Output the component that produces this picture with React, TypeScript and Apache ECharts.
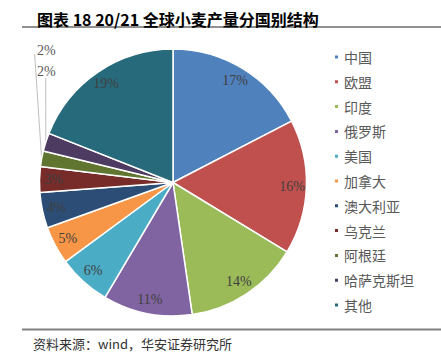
import React, { useEffect, useRef } from "react";
import * as echarts from "echarts";

const titleText = "图表 18 20/21 全球小麦产量分国别结构";
const sourceText = "资料来源：wind，华安证券研究所";
const names = ["中国", "欧盟", "印度", "俄罗斯", "美国", "加拿大", "澳大利亚", "乌克兰", "阿根廷", "哈萨克斯坦", "其他"];
const shares = [17.4, 16.3, 14.0, 10.8, 6.4, 4.6, 4.3, 3.1, 1.9, 2.2, 19.0];
const colors = ["#4F81BD", "#C0504D", "#9BBB59", "#8064A2", "#4BACC6", "#F79646", "#2C4D75", "#772C2A", "#5F7530", "#4D3B62", "#276A7C"];
const outsideNames = ["阿根廷", "哈萨克斯坦"];

const CX = 173;
const CY = 182.5;
const R = 133.5;

function arcPoint(idx: number, r: number): [number, number] {
  const total = shares.reduce((a, b) => a + b, 0);
  let cum = 0;
  for (let i = 0; i < idx; i++) cum += shares[i];
  const f = (cum + shares[idx] / 2) / total;
  const t = f * Math.PI * 2;
  return [CX + r * Math.sin(t), CY - r * Math.cos(t)];
}

export default function App() {
  const ref = useRef<HTMLDivElement>(null);
  useEffect(() => {
    if (!ref.current) return;
    const chart = echarts.init(ref.current, null, { renderer: "svg" });
    const fmt = (p: any) => Math.round(p.value) + "%";
    const serif = "'Liberation Serif', 'Times New Roman', serif";
    const cjk = "'Noto Sans CJK SC', sans-serif";
    chart.setOption({
      animation: false,
      backgroundColor: "#ffffff",
      color: colors,
      title: {
        text: titleText,
        left: 32,
        top: 6,
        textStyle: { fontSize: 16, fontWeight: "bold", color: "#000000", fontFamily: cjk },
      },
      legend: {
        orient: "vertical",
        left: 328,
        top: 45,
        icon: "rect",
        itemWidth: 5,
        itemHeight: 5,
        itemGap: 10.8,
        data: names,
        textStyle: { fontSize: 14, lineHeight: 14, color: "#595959", fontFamily: cjk },
      },
      graphic: [
        { type: "line", shape: { x1: 22, y1: 27, x2: 441, y2: 27 }, style: { stroke: "#222222", lineWidth: 1 } },
        { type: "line", shape: { x1: 22, y1: 329.5, x2: 441, y2: 329.5 }, style: { stroke: "#808080", lineWidth: 2 } },
        {
          type: "text",
          x: 33,
          y: 343,
          style: { text: sourceText, fontSize: 13, fill: "#333333", fontFamily: cjk, verticalAlign: "middle" },
        },
      ],
      series: [
        {
          type: "pie",
          center: [CX, CY],
          radius: [0, R],
          startAngle: 90,
          clockwise: true,
          avoidLabelOverlap: false,
          silent: true,
          itemStyle: { borderColor: "#ffffff", borderWidth: 1.5 },
          label: {
            show: true,
            position: "outside",
            formatter: fmt,
            fontSize: 14,
            color: "#595959",
            fontFamily: serif,
          },
          labelLine: { show: true, length: 10, length2: 10, smooth: false, lineStyle: { color: "#BFBFBF", width: 1 } },
          labelLayout: (p: any) => {
            const k = outsideNames.indexOf(names[p.dataIndex]);
            if (k < 0) return {};
            const pt = arcPoint(p.dataIndex, R);
            const ly = k === 0 ? 50 : 71;
            const topX = k === 0 ? pt[0] - 7 : pt[0];
            const topY = k === 0 ? ly + 4 : ly + 7;
            return {
              x: 37,
              y: ly,
              align: "left",
              verticalAlign: "middle",
              labelLinePoints: [
                [topX, topY],
                [(topX + pt[0]) / 2, (topY + pt[1]) / 2],
                [pt[0], pt[1]],
              ],
            };
          },
          data: names.map((n, i) => ({
            name: n,
            value: shares[i],
            label: { show: outsideNames.indexOf(n) >= 0 },
            labelLine: { show: outsideNames.indexOf(n) >= 0 },
          })),
        },
        {
          type: "pie",
          center: [CX, CY],
          radius: [99, R],
          startAngle: 90,
          clockwise: true,
          avoidLabelOverlap: false,
          silent: true,
          legendHoverLink: false,
          itemStyle: { color: "rgba(0,0,0,0)", borderWidth: 0 },
          emphasis: { disabled: true },
          label: {
            show: true,
            position: "inside",
            formatter: fmt,
            fontSize: 14,
            color: "#404040",
            fontFamily: serif,
          },
          labelLine: { show: false },
          data: names.map((n, i) => ({
            name: n,
            value: shares[i],
            label: { show: outsideNames.indexOf(n) < 0 },
          })),
        },
      ],
    });
    return () => chart.dispose();
  }, []);
  return (
    <div
      ref={ref}
      style={{ position: "absolute", left: 0, top: 0, width: 441, height: 355, background: "#ffffff" }}
    />
  );
}
